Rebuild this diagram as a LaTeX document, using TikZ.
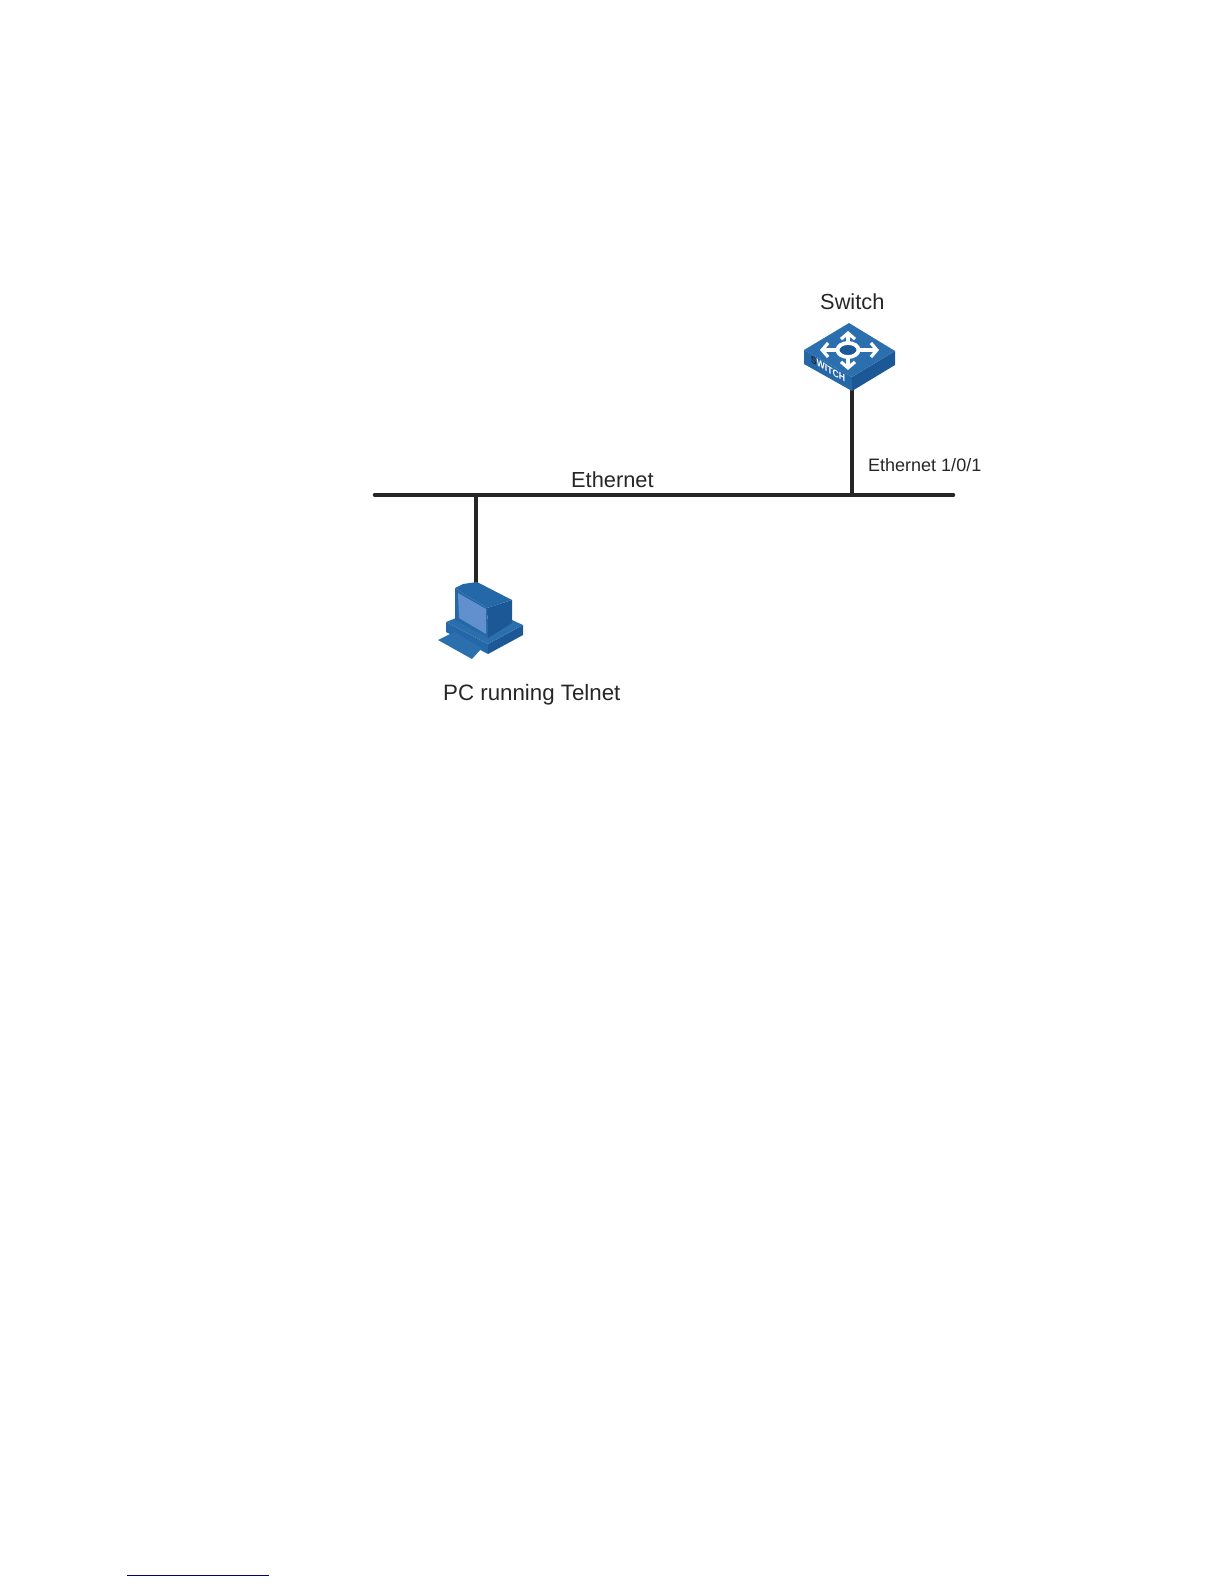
\documentclass[tikz,border=0pt]{standalone}
\usepackage{fontspec}
\setmainfont{Liberation Sans}
\usetikzlibrary{arrows.meta}
\definecolor{blueTop}{HTML}{2B6FAF}
\definecolor{blueMid}{HTML}{2568A8}
\definecolor{blueDark}{HTML}{1C5896}
\definecolor{blueScreen}{HTML}{6290CF}
\definecolor{inkDark}{HTML}{1A2A3A}
\tikzset{
  x=1pt,y=-1pt,
  wire/.style={draw=black!85,line width=3.6pt},
  bus/.style={draw=black!85,line width=4.6pt,line cap=round},
  biglabel/.style={anchor=base west,inner sep=0pt,font=\fontsize{22.3}{24}\selectfont,text=black!85},
  midlabel/.style={anchor=base west,inner sep=0pt,font=\fontsize{21.8}{24}\selectfont,text=black!85},
  smalllabel/.style={anchor=base west,inner sep=0pt,font=\fontsize{18}{21}\selectfont,text=black!85},
  swarrow/.style={draw=white,line width=3.4pt,-{Straight Barb[length=6pt,width=14pt,line width=3.2pt]}},
}
\begin{document}
\begin{tikzpicture}
\useasboundingbox (0,0) rectangle (1224,1584);
% coordinates
\coordinate (busL) at (375,495);
\coordinate (busR) at (953,495);
\coordinate (tapPC) at (476,495);
\coordinate (tapSW) at (852,495);
\coordinate (pc) at (476,584);
\coordinate (sw) at (852,390);
% connectors
\draw[wire] (tapSW) -- (sw);
\draw[wire] (tapPC) -- (pc);
\draw[bus] (busL) -- (busR);
% switch icon
\fill[blueMid] (804,350) -- (804,364) -- (852,391) -- (852,377) -- cycle;
\fill[blueDark] (852,377) -- (852,391) -- (895,365) -- (895,351) -- cycle;
\fill[blueTop] (849,323) -- (895,351) -- (852,377) -- (804,350) -- cycle;
\draw[swarrow] (848,344) -- (848,331);
\draw[swarrow] (848,356) -- (848,370);
\draw[swarrow] (838,350) -- (820,350);
\draw[swarrow] (858,350) -- (879,350);
\draw[white,line width=3.8pt,fill=blueDark] (848,350) ellipse [x radius=10.5, y radius=7];
\node[inner sep=0pt,text=white,font=\bfseries\fontsize{10}{10}\selectfont,
  transform shape,cm={0.87,-0.5,0,1,(0,0)}] (swtext) at (828,369) {\textcolor{inkDark}{S}WITCH};
% PC icon
\fill[blueMid] (446,622) -- (446,632) -- (488,654) -- (488,644) -- cycle;
\fill[blueDark] (488,644) -- (488,654) -- (523,635) -- (523,625) -- cycle;
\fill[blueTop] (446,622) -- (456,618) -- (512,620) -- (523,625) -- (488,644) -- cycle;
\fill[blueTop] (438,640) -- (454,632) -- (482,648) -- (472,659) -- cycle;
\fill[blueDark] (487,608) -- (512,600) -- (512,623) -- (488,638) -- cycle;
\fill[blueMid] (455,588) -- (463,584) -- (477,582) -- (512,600) -- (487,608) -- cycle;
\fill[blueMid] (455,588) -- (487,608) -- (488,638) -- (455,620) -- cycle;
\fill[blueScreen] (458,593) -- (486,609) -- (486,634) -- (459,618) -- cycle;
% labels
\node[midlabel] (switchlabel) at (820,309) {Switch};
\node[midlabel] (ethlabel) at (571,487) {Ethernet};
\node[smalllabel] (portlabel) at (868,471) {Ethernet 1/0/1};
\node[biglabel] (pclabel) at (443,700) {PC running Telnet};
% footnote rule
\coordinate (ruleL) at (127,1575);
\coordinate (ruleR) at (269,1575);
\draw[draw=blue!50!black,line width=1pt] (ruleL) -- (ruleR);
\end{tikzpicture}
\end{document}
